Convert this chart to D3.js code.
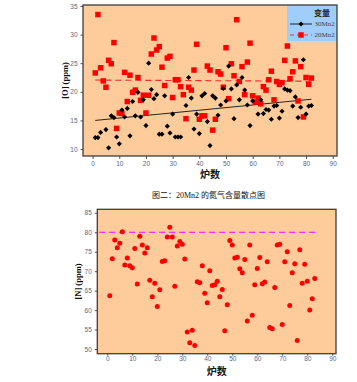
<!DOCTYPE html>
<html><head><meta charset="utf-8">
<script src="https://cdn.jsdelivr.net/npm/d3@7"></script>
<style>
body{margin:0;background:#fff;}
svg{display:block;}
text{font-family:"Liberation Serif","Noto Sans CJK SC",serif;}
.tick text{font-family:"Liberation Sans","DejaVu Sans",sans-serif;}
</style></head><body>
<svg id="c" width="357" height="382"></svg>
<script>
// ---- Chart 1: [O] content, 30Mn2 vs 20Mn2 ----
const x30 = [1,2,3,5,6,7,8,9,10,11,12,13,14,15,16,17,18,19,20,21,22,23,24,25,26,27,28,29,30,31,32,33,35,36,37,38,39,40,41,42,43,44,45,46,47,48,49,50,51,52,53,54,55,56,57,58,59,60,62,63,64,65,66,67,68,69,70,71,72,73,74,75,76,77,78,79,80,81,82];
const o30 = [12,12,12.9,13.4,10.2,15.8,15.5,12.1,10.9,16.8,15.6,17.1,12.3,18.3,15.8,19.9,15.6,18.6,14.1,25,20.4,18.8,19.5,12.6,12.6,19.3,14,12.8,16.1,12.1,12.1,12.1,17.6,22.5,18.9,13.5,16.1,12.7,19.3,19.7,14.8,10.6,19.3,18.9,15.9,17.7,20.6,18.4,24.5,20.5,15.3,21.2,18.6,22.5,20.3,17.7,14.1,18.4,16.1,18.6,16.2,16.9,16.8,15.2,17.5,17.6,15.4,16.6,20.5,20.3,20.2,17.5,19.1,15.5,17.3,25.6,16.1,17.5,17.6,14.4];
const x20 = d3.range(1, 83);
const o20 = [23.3,33.5,24.2,21.9,20.8,25.5,24.9,28.6,13.6,16.3,
  16.2,23.4,18.3,22.9,19.9,20.3,22.5,18.5,19.4,16.3,
  19.4,26.6,29.4,27.3,27.9,24.3,21.1,25.9,26.2,19.0,
  22.1,22.1,20.9,19.5,15.3,20.8,20.3,23.8,28.3,15.2,
  15.8,15.8,24.5,23.8,13.3,15.2,23.5,23.1,20.8,27.7,
  18.8,24.9,22.8,32.6,21.8,24.4,19.5,25.2,28.5,19.3,
  18.2,18.9,17.9,20.9,20.3,22.1,23.6,18.6,21.8,21.3,
  21.6,25.5,28.0,22.3,23.5,25.4,18.4,24.4,15.6,22.5,21.3,22.4];
// fitted trend lines: [x, y] at the two ends
const fit30 = [[1, 15.0], [82, 18.7]];
const fit20 = [[1, 22.05], [82, 21.85]];
const oTicks = [10,15,20,25,30,35];
const xTicks = [0,10,20,30,40,50,60,70,80,90];
const legendNames = ["30Mn2", "20Mn2"];

// ---- Chart 2: [N] content of 20Mn2 ----
const xN = d3.range(1, 84);
const n20 = [63.7,73.2,78,76,77.2,80.1,71.6,73.4,71.4,70.9,
  75.8,66.7,79,76.7,74.7,76,67.7,63.4,66.9,60.9,
  65.2,72.5,72.7,78.8,81.3,78.8,66.1,76.5,77.6,76.9,
  73.1,54.4,51.6,54.8,50.9,67.3,67.0,71.4,64.3,61.9,
  70.1,66.3,66.5,67.4,63.4,65.3,54.7,61.4,77.9,76.7,
  73.4,73.6,70.6,69.6,73.0,57.2,76.7,58.7,66.5,70.7,
  73.5,66.8,67.2,72.4,55.5,55.2,65.8,76.7,76.9,56.3,
  72.4,75.0,61.2,69.6,71.9,52.2,75.5,66.9,71.8,67.4,
  60.0,62.9,68.1];
const nLimit = 80;
const nLimitSpan = [-3.3, 83.4];
const nTicks = [50,55,60,65,70,75,80,85];
const title2 = "图二：20Mn2 的氮气含量散点图";
const xLabel = "炉数";

const svg = d3.select("#c");
const PEACH = "#fecb9b";

function frame(g, x, y, yTicks, yLabel, labelX, tSize, tPad) {
  const [x0, x1] = x.range(), [y0, y1] = y.range();
  g.append("rect").attr("x", x0).attr("y", y1).attr("width", x1 - x0).attr("height", y0 - y1)
    .attr("fill", PEACH);
  const ax = g.append("g").attr("transform", `translate(0,${y0})`)
    .call(d3.axisBottom(x).tickValues(xTicks).tickSize(tSize).tickPadding(tPad));
  const ay = g.append("g").attr("transform", `translate(${x0},0)`)
    .call(d3.axisLeft(y).tickValues(yTicks).tickSize(2.5).tickPadding(3));
  [ax, ay].forEach(a => {
    a.select(".domain").remove();
    a.selectAll(".tick line").attr("stroke", "#555");
    a.selectAll(".tick text").attr("font-size", 6.5).attr("fill", "#56677f");
  });
  g.append("text").attr("transform", `translate(${labelX},${(y0 + y1) / 2}) rotate(-90)`)
    .attr("text-anchor", "middle").attr("dominant-baseline", "middle")
    .attr("font-size", 8.5).attr("font-weight", "bold").attr("fill", "#111").text(yLabel);
  return () => g.append("rect").attr("x", x0).attr("y", y1).attr("width", x1 - x0).attr("height", y0 - y1)
    .attr("fill", "none").attr("stroke", "#3d3d3d").attr("stroke-width", 1.3);
}

// ===== Chart 1 =====
{
  const x = d3.scaleLinear().domain([-3.6, 91.6]).range([83, 337]);
  const y = d3.scaleLinear().domain([8.78, 35.17]).range([156, 5]);
  const g = svg.append("g");
  const border = frame(g, x, y, oTicks, "[O] (ppm)", 66, 3, 2.5);
  const line = d3.line().x(d => x(d[0])).y(d => y(d[1]));
  g.append("path").attr("d", line(fit20)).attr("fill", "none").attr("stroke", "#ff2a2a")
    .attr("stroke-width", 1.1).attr("stroke-dasharray", "6,4");
  g.append("path").attr("d", line(fit30)).attr("fill", "none").attr("stroke", "#111").attr("stroke-width", 0.9);
  const sq = d3.symbol().type(d3.symbolSquare).size(30);
  const dm = d3.symbol().type(d3.symbolDiamond2).size(17);
  g.selectAll(".s20").data(x20).join("path").attr("class", "s20")
    .attr("transform", (d, i) => `translate(${x(d)},${y(o20[i])})`).attr("d", sq).attr("fill", "#ff0000");
  g.selectAll(".s30").data(x30).join("path").attr("class", "s30")
    .attr("transform", (d, i) => `translate(${x(d)},${y(o30[i])})`).attr("d", dm).attr("fill", "#000");
  g.append("text").attr("x", (x.range()[0] + x.range()[1]) / 2).attr("y", 178).attr("text-anchor", "middle")
    .attr("font-size", 10).attr("font-weight", "bold").attr("fill", "#111").text(xLabel);
  // legend
  const lg = g.append("g");
  lg.append("rect").attr("x", 287).attr("y", 5).attr("width", 50).attr("height", 36).attr("fill", "#9fcdfc");
  lg.append("text").attr("x", 322).attr("y", 15.5).attr("text-anchor", "middle").attr("font-size", 8)
    .attr("font-weight", "bold").attr("fill", "#222").text("变量");
  const ly = [24, 35];
  lg.append("line").attr("x1", 290).attr("x2", 312).attr("y1", ly[0]).attr("y2", ly[0]).attr("stroke", "#111").attr("stroke-width", 0.9);
  lg.append("path").attr("transform", `translate(301,${ly[0]})`).attr("d", dm).attr("fill", "#000");
  lg.append("line").attr("x1", 290).attr("x2", 312).attr("y1", ly[1]).attr("y2", ly[1]).attr("stroke", "#ff2a2a")
    .attr("stroke-width", 1).attr("stroke-dasharray", "4,3");
  lg.append("path").attr("transform", `translate(301,${ly[1]})`).attr("d", sq).attr("fill", "#ff0000");
  legendNames.forEach((n, i) => lg.append("text").attr("x", 314.5).attr("y", ly[i]).attr("dominant-baseline", "middle")
    .attr("font-size", 7).attr("fill", "#444").text(n));
  border();
}

// ===== Chart 2 =====
{
  const x = d3.scaleLinear().domain([-4, 91.5]).range([97.3, 336]);
  const y = d3.scaleLinear().domain([48.8, 85.9]).range([353.7, 209.3]);
  const g = svg.append("g");
  const border = frame(g, x, y, nTicks, "[N] (ppm)", 79, 2, 1);
  g.append("line").attr("x1", x(nLimitSpan[0])).attr("x2", x(nLimitSpan[1]))
    .attr("y1", y(nLimit)).attr("y2", y(nLimit)).attr("stroke", "#ff00ff").attr("stroke-width", 1)
    .attr("stroke-dasharray", "6,4");
  g.selectAll(".n").data(xN).join("circle").attr("class", "n")
    .attr("cx", d => x(d)).attr("cy", (d, i) => y(n20[i])).attr("r", 2.5).attr("fill", "#ff0000");
  g.append("text").attr("x", 208.5).attr("y", 198).attr("text-anchor", "middle")
    .attr("font-size", 8).attr("fill", "#111").text(title2);
  g.append("text").attr("x", (x.range()[0] + x.range()[1]) / 2).attr("y", 375).attr("text-anchor", "middle")
    .attr("font-size", 10).attr("font-weight", "bold").attr("fill", "#111").text(xLabel);
  border();
}
</script>
</body></html>
